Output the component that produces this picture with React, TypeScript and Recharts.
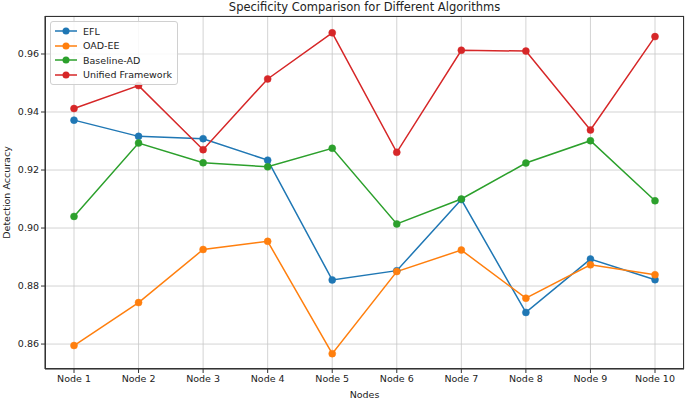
import { LineChart, Line, XAxis, YAxis, CartesianGrid } from 'recharts';

const nodes = ['Node 1', 'Node 2', 'Node 3', 'Node 4', 'Node 5', 'Node 6', 'Node 7', 'Node 8', 'Node 9', 'Node 10'];
const efl = [0.9372, 0.9316, 0.9308, 0.9234, 0.8821, 0.8853, 0.9098, 0.8709, 0.8893, 0.8822];
const oadEe = [0.8595, 0.8743, 0.8926, 0.8954, 0.8567, 0.8850, 0.8924, 0.8758, 0.8873, 0.8839];
const baselineAd = [0.9040, 0.9293, 0.9225, 0.9211, 0.9275, 0.9014, 0.9100, 0.9224, 0.9301, 0.9094];
const unified = [0.9412, 0.9491, 0.9270, 0.9514, 0.9673, 0.9261, 0.9613, 0.9610, 0.9338, 0.9660];
const yTicks = [0.86, 0.88, 0.9, 0.92, 0.94, 0.96];

const series = [
  { key: 'efl', name: 'EFL', color: '#1f77b4' },
  { key: 'oadEe', name: 'OAD-EE', color: '#ff7f0e' },
  { key: 'baselineAd', name: 'Baseline-AD', color: '#2ca02c' },
  { key: 'unified', name: 'Unified Framework', color: '#d62728' },
];

const data = nodes.map((node, i) => ({
  node,
  efl: efl[i],
  oadEe: oadEe[i],
  baselineAd: baselineAd[i],
  unified: unified[i],
}));

const font = '"DejaVu Sans", sans-serif';

// matplotlib-style legend box with line + marker
const LegendBox = () => (
  <div
    style={{
      position: 'absolute',
      left: 50,
      top: 21,
      background: 'rgba(255,255,255,0.85)',
      border: '1px solid #d0d0d0',
      borderRadius: 3,
      padding: '2px 5px 2px 4px',
      fontFamily: font,
      fontSize: 9.5,
      color: '#222',
    }}
  >
    {series.map((s) => (
      <div key={s.key} style={{ display: 'flex', alignItems: 'center', height: 14.5 }}>
        <svg width={22} height={10} style={{ marginRight: 6 }}>
          <line x1={0} y1={5} x2={22} y2={5} stroke={s.color} strokeWidth={1.5} />
          <circle cx={11} cy={5} r={3.5} fill={s.color} />
        </svg>
        <span>{s.name}</span>
      </div>
    ))}
  </div>
);

export default function App() {
  return (
    <div style={{ position: 'absolute', left: 0, top: 0, width: 685, height: 400, background: '#fff' }}>
      <div
        style={{
          position: 'absolute',
          left: 45,
          width: 639,
          top: 0,
          textAlign: 'center',
          fontFamily: font,
          fontSize: 11.5,
          color: '#222',
        }}
      >
        Specificity Comparison for Different Algorithms
      </div>
      <LineChart
        width={685}
        height={400}
        data={data}
        margin={{ top: 16, right: 1, bottom: 0, left: 0 }}
        style={{ fontFamily: font }}
      >
        <CartesianGrid stroke="#c8c8c8" strokeWidth={0.8} />
        <XAxis
          dataKey="node"
          padding={{ left: 29, right: 29 }}
          height={31}
          tick={{ fontSize: 9.5, fill: '#222' }}
          tickSize={4}
          tickLine={{ stroke: '#333' }}
          axisLine={{ stroke: '#333' }}
          interval={0}
          label={{ value: 'Nodes', position: 'insideBottom', offset: 2, fontSize: 9.5, fill: '#222' }}
        />
        <YAxis
          domain={[0.8514, 0.9731]}
          ticks={yTicks}
          allowDataOverflow
          width={45}
          tick={{ fontSize: 9.5, fill: '#222' }}
          tickSize={4}
          tickLine={{ stroke: '#333' }}
          axisLine={{ stroke: '#333' }}
          tickFormatter={(v: number) => v.toFixed(2)}
          label={{ value: 'Detection Accuracy', angle: -90, position: 'insideLeft', offset: 7, fontSize: 9.5, fill: '#222', style: { textAnchor: 'middle' } }}
        />
        {series.map((s) => (
          <Line
            key={s.key}
            dataKey={s.key}
            name={s.name}
            stroke={s.color}
            strokeWidth={1.5}
            dot={{ r: 3.5, fill: s.color, stroke: s.color, strokeWidth: 0.5 }}
            activeDot={false}
            isAnimationActive={false}
          />
        ))}
      </LineChart>
      <LegendBox />
      <div
        style={{
          position: 'absolute',
          left: 45,
          top: 16,
          width: 639,
          height: 353,
          boxSizing: 'border-box',
          border: '1px solid #333',
          pointerEvents: 'none',
        }}
      />
    </div>
  );
}
